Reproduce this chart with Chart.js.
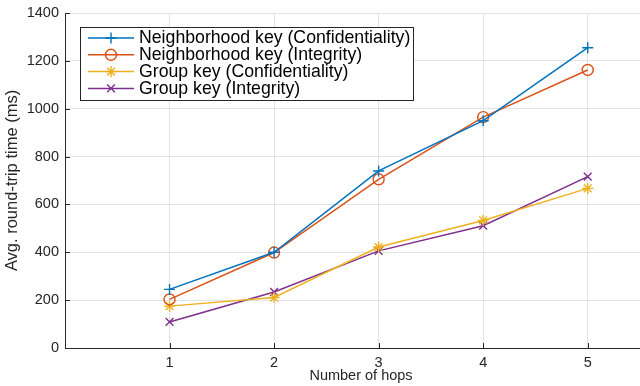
<!DOCTYPE html>
<html>
<head>
<meta charset="utf-8">
<script src="https://cdn.jsdelivr.net/npm/chart.js@4.4.1/dist/chart.umd.min.js"></script>
<style>
  html, body { margin: 0; padding: 0; background: #fff; }
  #wrap { width: 640px; height: 386px; }
</style>
</head>
<body>
<div id="wrap"><canvas id="c"></canvas></div>
<script>
// данные
const hops = [1, 2, 3, 4, 5];
const yTicks = [0, 200, 400, 600, 800, 1000, 1200, 1400];
const seriesNames = [
  'Neighborhood key (Confidentiality)',
  'Neighborhood key (Integrity)',
  'Group key (Confidentiality)',
  'Group key (Integrity)'
];
const nbConf = [245, 400, 740, 950, 1255];
const nbInt = [203, 399, 705, 965, 1162];
const grpConf = [175, 211, 422, 533, 667];
const grpInt = [109, 234, 406, 511, 716];
const xTitle = 'Number of hops';

const colors = ['#0072BD', '#D95319', '#EDB120', '#7E2F8E'];
const markers = ['cross', 'circle', 'star', 'crossRot'];
const values = [nbConf, nbInt, grpConf, grpInt];

const FONT = '"Liberation Sans", Arial, Helvetica, sans-serif';
const TEXT = '#262626';

const datasets = values.map((v, i) => ({
  label: seriesNames[i],
  data: hops.map((h, j) => ({ x: h, y: v[j] })),
  borderColor: colors[i],
  backgroundColor: colors[i],
  borderWidth: 1.5,
  pointStyle: markers[i],
  pointRadius: 5.5,
  pointBorderWidth: 1.4,
  pointBackgroundColor: 'rgba(0,0,0,0)',
  pointBorderColor: colors[i],
  tension: 0
}));

// тики внутрь, подпись оси X и легенда внутри графика, как в MATLAB
const matlabStyle = {
  id: 'matlabStyle',
  afterDraw(chart) {
    const ctx = chart.ctx;
    const xs = chart.scales.x, ys = chart.scales.y;
    const a = chart.chartArea;
    ctx.save();
    ctx.strokeStyle = TEXT;
    ctx.lineWidth = 1;
    ctx.beginPath();
    hops.forEach(h => {
      const px = Math.round(xs.getPixelForValue(h)) + 0.5;
      ctx.moveTo(px, a.bottom);
      ctx.lineTo(px, a.bottom - 5);
    });
    yTicks.forEach(t => {
      const py = Math.round(ys.getPixelForValue(t)) + 0.5;
      ctx.moveTo(a.left, py);
      ctx.lineTo(a.left + 5, py);
    });
    ctx.stroke();

    // подпись оси X (в оригинале чуть правее центра)
    ctx.fillStyle = TEXT;
    ctx.font = '14.5px ' + FONT;
    ctx.textAlign = 'center';
    ctx.textBaseline = 'middle';
    ctx.fillText(xTitle, 361, 376);

    // легенда
    const bx = 80.5, by = 27.5, bw = 333, bh = 73, row = 16.8;
    ctx.fillStyle = '#fff';
    ctx.fillRect(bx, by, bw, bh);
    ctx.strokeStyle = TEXT;
    ctx.lineWidth = 1;
    ctx.strokeRect(bx, by, bw, bh);
    ctx.font = '17.7px ' + FONT;
    ctx.textBaseline = 'middle';
    ctx.textAlign = 'left';
    chart.data.datasets.forEach((ds, i) => {
      const cy = by + 10.5 + i * row;
      ctx.strokeStyle = ds.borderColor;
      ctx.lineWidth = 1.5;
      ctx.beginPath();
      ctx.moveTo(88, cy);
      ctx.lineTo(134, cy);
      ctx.stroke();
      ctx.lineWidth = 1.4;
      ctx.fillStyle = 'rgba(0,0,0,0)';
      Chart.helpers.drawPoint(ctx, {
        pointStyle: ds.pointStyle, radius: 5.5, rotation: 0, borderWidth: 1.4
      }, 111, cy);
      ctx.fillStyle = '#000';
      ctx.fillText(ds.label, 139, cy + 0.5);
    });
    ctx.restore();
  }
};

new Chart(document.getElementById('c'), {
  type: 'line',
  data: { datasets },
  options: {
    responsive: true,
    maintainAspectRatio: false,
    animation: false,
    layout: { autoPadding: false, padding: { top: 13, right: 0, left: 0, bottom: 0 } },
    plugins: { legend: { display: false }, tooltip: { enabled: false } },
    scales: {
      x: {
        type: 'linear',
        min: 0,
        max: 5.5,
        afterBuildTicks: s => { s.ticks = hops.map(v => ({ value: v })); },
        afterFit: s => { s.height = 38; s.paddingLeft = 0; s.paddingRight = 0; },
        grid: { color: '#e3e3e3', drawTicks: false, lineWidth: 1 },
        border: { color: TEXT, width: 1 },
        ticks: {
          color: TEXT, font: { family: FONT, size: 14.5 }, padding: 6, maxRotation: 0,
          callback: v => String(v)
        }
      },
      y: {
        min: 0,
        max: 1400,
        afterBuildTicks: s => { s.ticks = yTicks.map(v => ({ value: v })); },
        afterFit: s => { s.width = 65; s.paddingTop = 0; s.paddingBottom = 0; },
        grid: { color: '#e3e3e3', drawTicks: false, lineWidth: 1 },
        border: { color: TEXT, width: 1 },
        ticks: {
          color: TEXT, font: { family: FONT, size: 14.5 }, padding: 6,
          callback: v => String(v)
        },
        title: {
          display: true, text: 'Avg. round-trip time (ms)', color: TEXT,
          font: { family: FONT, size: 16.5 }, padding: { top: 3, bottom: 0 }
        }
      }
    }
  },
  plugins: [matlabStyle]
});
</script>
</body>
</html>
